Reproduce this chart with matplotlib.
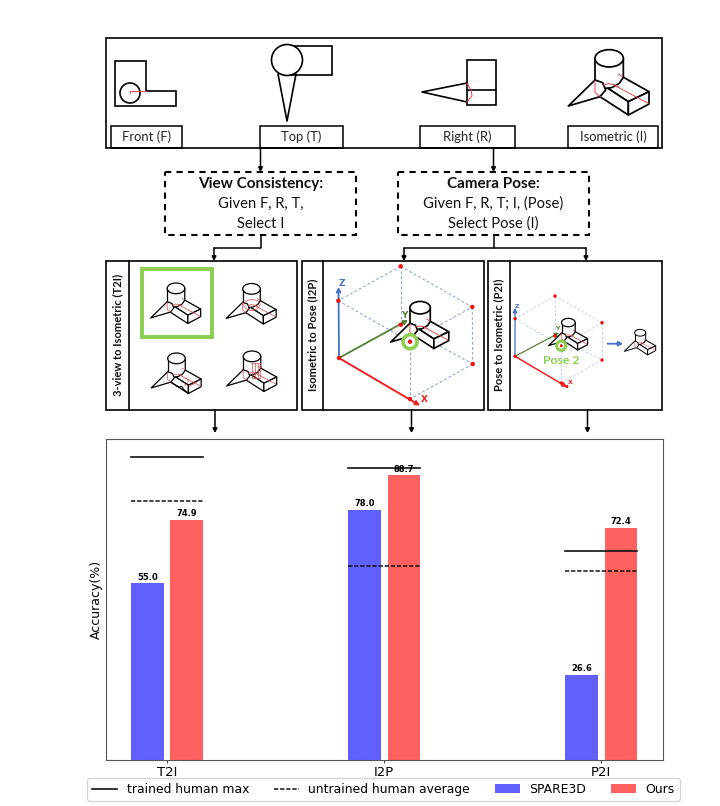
import numpy as np
import matplotlib
matplotlib.use('Agg')
import matplotlib.pyplot as plt
from matplotlib.patches import Rectangle, Circle, Ellipse, Polygon

plt.rcParams['font.family'] = ['DejaVu Sans']

# chart data
tareas = ['T2I', 'I2P', 'P2I']
spare3d = [55.0, 78.0, 26.6]
ours = [74.9, 88.7, 72.4]
trained_max = [94.4, 91.1, 65.0]
untrained_avg = [80.7, 60.3, 58.9]

# diagram texts
vistas = ['Front (F)', 'Top (T)', 'Right (R)', 'Isometric (I)']
caja_izq = ['View Consistency:', 'Given F, R, T,', 'Select I']
caja_der = ['Camera Pose:', 'Given F, R, T; I, (Pose)', 'Select Pose (I)']
paneles = ['3-view to Isometric (T2I)', 'Isometric to Pose (I2P)', 'Pose to Isometric (P2I)']

AZUL = '#6060ff'
ROJO = '#ff6060'
VERDE = '#8ccf50'
DOT = '#ee1111'
DIAG = 'Lato'

fig = plt.figure(figsize=(7.2, 8.06), dpi=100)

# ---- bar chart ----
ax = fig.add_axes([106 / 720, 46 / 806, 557 / 720, 321 / 806])
x = np.arange(len(tareas))
w = 0.15
d = 0.091
b1 = ax.bar(x - d, spare3d, w, color=AZUL, label='SPARE3D')
b2 = ax.bar(x + d, ours, w, color=ROJO, label='Ours')
ax.bar_label(b1, fmt='%.1f', fontsize=6, fontweight='bold', padding=1)
ax.bar_label(b2, fmt='%.1f', fontsize=6, fontweight='bold', padding=1)
for i in x:
    ax.plot([i - 0.165, i + 0.165], [trained_max[i]] * 2, color='#111111', lw=1.2,
            label='trained human max' if i == 0 else None)
    ax.plot([i - 0.165, i + 0.165], [untrained_avg[i]] * 2, color='#111111', lw=1.1,
            ls=(0, (2.8, 1.2)), label='untrained human average' if i == 0 else None)
ax.set_xlim(-0.281, 2.284)
ax.set_ylim(0, 100)
ax.set_xticks(x)
ax.set_xticklabels(tareas, fontsize=9.5)
ax.set_yticks([])
ax.tick_params(axis='x', length=2.5, pad=1.5, color='#444444')
ax.set_ylabel('Accuracy(%)', fontsize=9)
ax.yaxis.set_label_coords(-0.005, 0.5)
for s in ax.spines.values():
    s.set_color('#555555')

h, l = ax.get_legend_handles_labels()
orden = [l.index(n) for n in ['trained human max', 'untrained human average', 'SPARE3D', 'Ours']]
ax.legend([h[i] for i in orden], [l[i] for i in orden], ncol=4, fontsize=8.9,
          loc='center', bbox_to_anchor=(383.5 / 720, 16.5 / 806), bbox_transform=fig.transFigure,
          columnspacing=2.0, handlelength=2.0, handletextpad=0.8, borderpad=0.4,
          borderaxespad=0)

# ---- diagram overlay, in picture pixels ----
lienzo = fig.add_axes([0, 0, 1, 1], zorder=5)
lienzo.set_xlim(0, 720)
lienzo.set_ylim(806, 0)
lienzo.axis('off')
lienzo.patch.set_alpha(0)


def linea(pts, color='black', lw=1.2, ls='-', z=3):
    pts = np.array(pts)
    lienzo.plot(pts[:, 0], pts[:, 1], color=color, lw=lw, ls=ls, zorder=z,
                solid_capstyle='round', solid_joinstyle='round')


def caja(x0, y0, x1, y1, lw=1.2, color='black', ls='-', z=2, fc='none'):
    lienzo.add_patch(Rectangle((x0, y0), x1 - x0, y1 - y0, fill=fc != 'none', fc=fc,
                               ec=color, lw=lw, ls=ls, zorder=z))


def flecha(x0, y0, x1, y1, color='black', lw=1.1, z=3):
    lienzo.annotate('', xy=(x1, y1), xytext=(x0, y0), zorder=z,
                    arrowprops=dict(arrowstyle='-|>,head_width=0.13,head_length=0.25',
                                    color=color, lw=lw, shrinkA=0, shrinkB=0))


# the little isometric part, local units come from a 3x crop
def pieza(x0, y0, s, lw=1.0, extra_negro=(), extra_rojo=(), z=6):
    def T(p):
        p = np.array(p, dtype=float)
        return np.column_stack([x0 + s * p[:, 0] / 3, y0 + s * p[:, 1] / 3])

    def cara(p):
        lienzo.add_patch(Polygon(T(p), closed=True, fc='white', ec='black', lw=lw, zorder=z,
                                 joinstyle='round'))

    cara([(105, 120), (205, 185), (267, 155), (178, 105)])
    cara([(105, 120), (120, 170), (205, 225), (205, 185)])
    cara([(205, 185), (205, 225), (267, 192), (267, 155)])
    for p in extra_negro:
        linea(T(p), lw=lw, z=z + 0.1)
    base = [(105, 55), (105, 120), (135, 145), (155, 143), (178, 130), (190, 112), (190, 55)]
    lienzo.add_patch(Polygon(T(base), closed=True, fc='white', ec='none', zorder=z + 0.2))
    linea(T(base[:2]), lw=lw, z=z + 0.3)
    linea(T(base[2:]), lw=lw, z=z + 0.3)
    c = T([(147.5, 55)])[0]
    lienzo.add_patch(Ellipse(c, s * 85 / 3, s * 52 / 3, fc='white', ec='black', lw=lw, zorder=z + 0.4))
    lienzo.add_patch(Polygon(T([(25, 198), (105, 120), (128, 128), (137, 150), (120, 170)]),
                             closed=True, fc='white', ec='black', lw=lw, zorder=z + 0.5,
                             joinstyle='round'))
    rojo = 0.55 * lw
    col = '#e04848'
    linea(T([(175, 102), (187, 110)]), color=col, lw=rojo, z=z + 0.6)
    linea(T([(165, 137), (265, 190)]), color=col, lw=rojo, z=z + 0.6)
    linea(T([(105, 122), (105, 158), (122, 170)]), color=col, lw=rojo, z=z + 0.6)
    linea(T([(128, 136), (145, 131), (165, 134), (178, 142)]), color=col, lw=rojo, z=z + 0.6)
    for p in extra_rojo:
        linea(T(p), color=col, lw=rojo, z=z + 0.6)


def nodos(pts, r):
    for p in pts:
        lienzo.add_patch(Circle(p, r, fc=DOT, ec='none', zorder=4))


def cubo(n, color, lwd, r):
    pares = [('top', 'ul'), ('top', 'ur'), ('ur', 'lr'), ('lr', 'bot'), ('top', 'cen'),
             ('ul', 'gre'), ('gre', 'ur'), ('gre', 'bot'), ('cen', 'lr')]
    for a, b in pares:
        linea([n[a], n[b]], color=color, lw=lwd, ls=(0, (2.5, 2)), z=3)
    nodos([n[k] for k in ['top', 'ul', 'ur', 'cen', 'll', 'lr', 'bot']], r)


# top strip with the three views
caja(106, 38, 662, 148, lw=1.2)
etiquetas = [(110.5, 182), (260, 343), (420, 514.5), (568, 658)]
for (a, b), t in zip(etiquetas, vistas):
    caja(a, 126, b, 148, lw=1.1)
    lienzo.text((a + b) / 2, 137, t, ha='center', va='center', fontsize=9.4,
                family=DIAG, color='#222222')

# front view
lienzo.add_patch(Polygon([(115, 61), (146, 61), (146, 91), (176, 91), (176, 106), (115, 106)],
                         closed=True, fc='white', ec='black', lw=1.2, zorder=2))
lienzo.add_patch(Circle((130, 93), 10, fc='white', ec='black', lw=1.2, zorder=3))
linea([(130, 93), (130, 91), (146, 91)], color='#e04848', lw=0.7, z=4)
# top view
caja(287, 46, 332, 75, fc='white')
linea([(278, 74), (287, 121), (296, 74)], lw=1.2)
lienzo.add_patch(Circle((287, 60), 15.5, fc='white', ec='black', lw=1.2, zorder=3))
# right view
caja(467, 60, 496, 105, fc='white')
linea([(467, 90), (496, 90)], lw=1.2)
linea([(467, 83), (422, 92), (467, 102)], lw=1.2)
linea([(467, 83), (471, 90), (472, 96), (467, 102)], color='#e04848', lw=0.7)
# isometric view
pieza(560, 40, 1.0, lw=1.25)

# dashed text boxes
caja(165, 172, 356, 235, lw=1.5, ls=(0, (3, 2.5)))
caja(398, 172, 589, 235, lw=1.5, ls=(0, (3, 2.5)))
for cx, textos in [(260.5, caja_izq), (493.5, caja_der)]:
    for k, (t, yy) in enumerate(zip(textos, [184, 204, 223.5])):
        lienzo.text(cx, yy, t, ha='center', va='center', fontsize=11 if k == 0 else 10.6,
                    family=DIAG, fontweight='bold' if k == 0 else 'normal', color='#111111')

# connectors
flecha(260.5, 148, 260.5, 172)
flecha(493.5, 148, 493.5, 172)
linea([(260.5, 235), (260.5, 248), (214, 248)], lw=1.1)
flecha(214, 248, 214, 261)
linea([(493.5, 235), (493.5, 248)], lw=1.1)
linea([(404, 248), (586, 248)], lw=1.1)
flecha(404, 248, 404, 261)
flecha(586, 248, 586, 261)
flecha(215, 410, 215, 433)
flecha(411.5, 410, 411.5, 433)
flecha(587.5, 410, 587.5, 433)

# three panels
marcos = [(106, 129, 297), (301.5, 323, 484), (488, 510, 662)]
for (a, m, b), t in zip(marcos, paneles):
    caja(a, 261, b, 410, lw=1.2)
    linea([(m, 261), (m, 410)], lw=1.2)
    lienzo.text((a + m) / 2, 335, t, rotation=90, ha='center', va='center',
                fontsize=8.0, fontweight='bold', family=DIAG, color='#111111')

# T2I options
caja(142, 269, 212, 337, lw=2.8, color=VERDE)
pieza(145.5, 277, 0.62, lw=0.9)
pieza(221, 277.5, 0.62, lw=0.9,
      extra_rojo=[[(105, 130), (125, 112), (150, 106), (178, 112), (190, 130), (178, 150), (150, 160), (125, 155), (105, 130)]])
pieza(146, 347, 0.62, lw=0.9,
      extra_negro=[[(120, 170), (160, 195), (172, 190), (182, 205), (205, 225)]],
      extra_rojo=[[(190, 150), (205, 160), (200, 178), (185, 185)], [(210, 190), (245, 170)]])
pieza(221.5, 345, 0.62, lw=0.9,
      extra_rojo=[[(149, 85), (186, 85), (186, 158), (149, 158), (149, 85)],
                  [(160, 85), (160, 158)], [(175, 85), (175, 158)]])

# I2P
n2 = dict(top=(400.7, 266.3), ul=(338.3, 300.7), ur=(472.3, 307), cen=(400.7, 324.7),
          gre=(410, 341.7), ll=(339, 358), lr=(472.7, 364), bot=(410, 399))
cubo(n2, '#8fa9d6', 0.8, 2.2)
flecha(339, 358, 338.5, 287, color='#4472c4', lw=1.3)
flecha(339, 358, 408, 320, color='#548235', lw=1.3)
flecha(339, 358, 420, 405.5, color='#ee2222', lw=1.4)
lienzo.text(341.5, 283, 'Z', color='#4472c4', fontsize=6.5, fontweight='bold', ha='center', va='center')
lienzo.text(404.5, 315, 'Y', color='#548235', fontsize=6.5, fontweight='bold', ha='center', va='center')
lienzo.text(424, 399, 'X', color='#ee2222', fontsize=6.5, fontweight='bold', ha='center', va='center')
pieza(384.7, 294.5, 0.72, lw=1.2)
lienzo.add_patch(Circle(n2['gre'], 7, fc='white', ec=VERDE, lw=2.6, zorder=8))
lienzo.add_patch(Circle(n2['gre'], 2.2, fc=DOT, ec='none', zorder=9))

# P2I
n3 = dict(top=(555, 296), ul=(515, 318.7), ur=(602, 322.7), cen=(555, 336),
          gre=(561.3, 345.7), ll=(515, 356.3), lr=(602, 360), bot=(561.3, 383))
cubo(n3, '#c3d2ea', 0.7, 1.7)
flecha(515, 356.3, 515, 308, color='#4472c4', lw=0.9)
flecha(515, 356.3, 559, 333, color='#548235', lw=0.9)
flecha(515, 356.3, 567, 387, color='#ee2222', lw=1.1)
lienzo.add_patch(Circle((567, 386.5), 1.5, fc=DOT, ec='none', zorder=4))
lienzo.text(517, 306, 'Z', color='#4472c4', fontsize=4.5, fontweight='bold', ha='center', va='center')
lienzo.text(557.5, 328.5, 'Y', color='#548235', fontsize=4.5, fontweight='bold', ha='center', va='center')
lienzo.text(570, 383, 'X', color='#ee2222', fontsize=4.5, fontweight='bold', ha='center', va='center')
pieza(544.6, 313.7, 0.483, lw=0.9)
lienzo.add_patch(Circle(n3['gre'], 4.6, fc='white', ec=VERDE, lw=2.2, zorder=8))
lienzo.add_patch(Circle(n3['gre'], 1.5, fc=DOT, ec='none', zorder=9))
lienzo.text(561.3, 361, 'Pose 2', color=VERDE, fontsize=8.8, fontweight='bold', family=DIAG,
            ha='center', va='center')
flecha(607.5, 343.7, 623, 343.7, color='#4472c4', lw=1.3)
pieza(621, 325.6, 0.39, lw=0.7)

plt.savefig('out.png', dpi=100)
